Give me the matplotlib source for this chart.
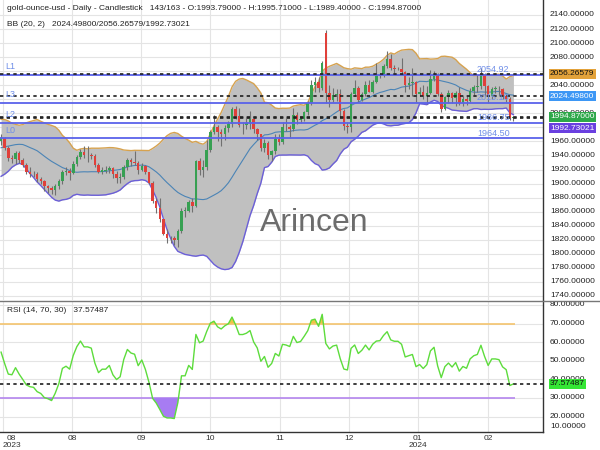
import numpy as np
import pandas as pd
import matplotlib
matplotlib.use("Agg")
import matplotlib.pyplot as plt

plt.rcParams['font.family'] = ['Liberation Sans', 'DejaVu Sans']

# ---------------- data ----------------
# closes before the visible window (warm-up for BB / RSI), Jun 1 - Jul 28 2023
prior_closes = [1978, 1948, 1962, 1963, 1940, 1965, 1961, 1957, 1944, 1943,
                1958, 1957, 1951, 1936, 1932, 1913, 1921, 1923, 1914, 1907,
                1908, 1919, 1921, 1925, 1915, 1911, 1925, 1925, 1932, 1957,
                1961, 1955, 1955, 1979, 1976, 1969, 1962, 1955, 1965, 1972,
                1956, 1960]

# visible bars: Jul 31 2023 - Feb 14 2024 (143 bars)
opens = [1960, 1965, 1951, 1936, 1935, 1943, 1934, 1926, 1917, 1914,
         1913, 1906, 1903, 1896, 1894, 1891, 1896, 1903, 1916, 1918,
         1915, 1928, 1938, 1945, 1940, 1940, 1939, 1926, 1916, 1918,
         1919, 1922, 1913, 1908, 1910, 1924, 1934, 1931, 1930, 1920,
         1925, 1916, 1901, 1875, 1865, 1849, 1828, 1822, 1822, 1820,
         1833, 1861, 1861, 1874, 1868, 1932, 1919, 1923, 1948, 1974,
         1981, 1973, 1970, 1979, 1985, 2006, 1996, 1983, 1983, 1986,
         1992, 1978, 1970, 1950, 1958, 1940, 1946, 1963, 1959, 1981,
         1980, 1978, 1998, 1990, 1992, 2002, 2014, 2041, 2044, 2036,
         2115, 2029, 2019, 2026, 2028, 2004, 1982, 1980, 2027, 2036,
         2019, 2027, 2040, 2031, 2045, 2053, 2054, 2067, 2077, 2065,
         2063, 2063, 2059, 2041, 2043, 2045, 2027, 2030, 2024, 2029,
         2049, 2055, 2028, 2006, 2023, 2029, 2022, 2029, 2014, 2021,
         2018, 2032, 2037, 2039, 2054, 2039, 2025, 2035, 2035, 2034,
         2024, 2020, 1993.79]

highs = [1970, 1966, 1953, 1940, 1946, 1946, 1937, 1930, 1923, 1918,
         1916, 1910, 1905, 1898, 1897, 1900, 1906, 1920, 1923, 1922,
         1932, 1940, 1949, 1953, 1953, 1943, 1942, 1929, 1923, 1925,
         1925, 1924, 1918, 1915, 1927, 1937, 1937, 1947, 1932, 1930,
         1927, 1917, 1903, 1880, 1880, 1850, 1835, 1825, 1825, 1836,
         1865, 1866, 1876, 1880, 1933, 1936, 1933, 1962, 1976, 1997,
         1983, 1977, 1983, 1989, 2009, 2010, 2008, 1988, 1993, 2004,
         1994, 1979, 1971, 1964, 1960, 1948, 1970, 1971, 1988, 1994,
         1983, 2007, 2002, 1996, 2004, 2018, 2048, 2052, 2052, 2075,
         2118, 2040, 2036, 2035, 2034, 2006, 1988, 2030, 2047, 2039,
         2031, 2046, 2047, 2047, 2071, 2058, 2070, 2088, 2084, 2069,
         2066, 2079, 2060, 2051, 2064, 2046, 2037, 2040, 2039, 2062,
         2060, 2057, 2031, 2025, 2033, 2030, 2032, 2037, 2024, 2025,
         2036, 2040, 2055, 2065, 2057, 2040, 2038, 2039, 2039, 2036,
         2027, 2023, 1995.71]

lows = [1955, 1948, 1932, 1930, 1928, 1930, 1923, 1914, 1910, 1910,
        1902, 1899, 1890, 1886, 1885, 1884, 1893, 1900, 1912, 1905,
        1913, 1925, 1935, 1937, 1931, 1935, 1923, 1915, 1914, 1915,
        1915, 1908, 1901, 1901, 1907, 1920, 1925, 1927, 1914, 1918,
        1913, 1899, 1873, 1858, 1846, 1827, 1815, 1816, 1813, 1810,
        1830, 1853, 1859, 1860, 1867, 1912, 1909, 1920, 1945, 1970,
        1961, 1953, 1962, 1973, 1981, 1992, 1980, 1970, 1977, 1978,
        1972, 1962, 1947, 1945, 1935, 1932, 1942, 1955, 1956, 1975,
        1965, 1975, 1985, 1986, 1989, 1998, 2012, 2031, 2031, 2033,
        2015, 2009, 2016, 2018, 1995, 1976, 1972, 1973, 2024, 2016,
        2017, 2025, 2030, 2029, 2043, 2050, 2051, 2064, 2062, 2058,
        2061, 2055, 2031, 2035, 2024, 2016, 2025, 2021, 2013, 2027,
        2046, 2024, 2002, 2005, 2015, 2015, 2011, 2012, 2010, 2012,
        2016, 2026, 2030, 2034, 2024, 2015, 2021, 2029, 2025, 2021,
        2016, 1990, 1989.40]

closes = [1965, 1951, 1936, 1935, 1943, 1934, 1926, 1917, 1914, 1913,
          1906, 1903, 1896, 1894, 1891, 1896, 1903, 1916, 1918, 1915,
          1928, 1938, 1945, 1940, 1940, 1939, 1926, 1916, 1919, 1919,
          1922, 1913, 1908, 1910, 1924, 1934, 1931, 1930, 1920, 1925,
          1916, 1901, 1875, 1865, 1849, 1828, 1822, 1822, 1820, 1833,
          1861, 1861, 1874, 1868, 1932, 1919, 1923, 1948, 1974, 1981,
          1973, 1970, 1979, 1985, 2006, 1996, 1983, 1983, 1986, 1992,
          1978, 1970, 1950, 1958, 1940, 1946, 1963, 1959, 1981, 1980,
          1978, 1998, 1990, 1992, 2002, 2014, 2041, 2044, 2036, 2072,
          2029, 2019, 2026, 2028, 2004, 1982, 1980, 2027, 2036, 2019,
          2027, 2040, 2031, 2045, 2053, 2054, 2067, 2077, 2065, 2063,
          2063, 2059, 2041, 2043, 2045, 2027, 2030, 2024, 2029, 2049,
          2055, 2028, 2006, 2023, 2029, 2022, 2029, 2014, 2021, 2018,
          2032, 2037, 2039, 2054, 2039, 2025, 2035, 2035, 2034, 2024,
          2020, 1993, 1994.87]

month_ticks = [0.45, 19.66, 38.78, 57.9, 77.3, 96.4, 115.5, 134.96]
month_labels = ['08\n2023', '08', '09', '10', '11', '12', '01\n2024', '02']

level_values = [2054.92, 2015.10, 1986.75, 1964.50]
level_names = ['L1', 'L3', 'L2', 'L0']

price_ticks = list(range(1740, 2141, 20))
rsi_ticks = [20, 30, 40, 50, 60, 70, 80]

bb_last = [2024.49800, 2056.26579, 1992.73021]   # mid / upper / lower
rsi_last = 37.57487
last_ohlc = [1993.79, 1995.71, 1989.40, 1994.87]

header = ("gold-ounce-usd - Daily - Candlestick   143/163 - O:1993.79000 - "
          "H:1995.71000 - L:1989.40000 - C:1994.87000")

# ---------------- indicators ----------------
n = len(closes)
allc = pd.Series(prior_closes + closes, dtype=float)
bb_mid = allc.rolling(20).mean().to_numpy()[-n:]
bb_sd = allc.rolling(20).std(ddof=0).to_numpy()[-n:]
bb_up = bb_mid + 2 * bb_sd
bb_lo = bb_mid - 2 * bb_sd

# Wilder RSI(14), seeded with the simple average of the first 14 changes
arr = allc.to_numpy()
chg = np.diff(arr)
gains = np.clip(chg, 0, None)
losses = np.clip(-chg, 0, None)
rsi_all = np.full(len(arr), np.nan)
ag = gains[:14].mean()
al = losses[:14].mean()
rsi_all[14] = 100 - 100 / (1 + ag / al)
for k in range(14, len(chg)):
    ag = (ag * 13 + gains[k]) / 14
    al = (al * 13 + losses[k]) / 14
    rsi_all[k + 1] = 100 - 100 / (1 + ag / al)
rsi = rsi_all[-n:]

# ---------------- figure ----------------
W, H = 600, 450
fig = plt.figure(figsize=(6, 4.5), dpi=100)
fig.patch.set_facecolor('white')


def fy(y):
    return 1 - y / H


ax = fig.add_axes([0, fy(300), 543 / W, 300 / H])
ax2 = fig.add_axes([0, fy(432), 543 / W, (432 - 301) / H])

XL = (-0.3, 150.2)
for a in (ax, ax2):
    a.set_xlim(*XL)
    a.set_facecolor('white')
    a.set_xticks(month_ticks)
    a.grid(True, color='#e4e4e4', lw=0.8)
    a.set_axisbelow(True)
    a.tick_params(which='both', length=0, labelleft=False, labelbottom=False,
                  labelright=False)
    for s in ('left', 'top'):
        a.spines[s].set_visible(False)
    a.spines['right'].set_color('#333333')
    a.spines['right'].set_linewidth(1.0)

ax.spines['bottom'].set_visible(False)
ax2.spines['bottom'].set_color('#333333')
ax2.spines['bottom'].set_linewidth(1.0)

ax.set_ylim(1734.3, 2161.3)
ax.set_yticks(price_ticks)
ax2.set_ylim(11.7, 82.15)
ax2.set_yticks(rsi_ticks)

x = np.arange(n)
o = np.array(opens, float)
h = np.array(highs, float)
lo = np.array(lows, float)
c = np.array(closes, float)

# Bollinger bands
ax.fill_between(x, bb_lo, bb_up, color='#c0c0c0', lw=0, zorder=1.5)
ax.plot(x, bb_up, color='#d6a24f', lw=1.0, zorder=2)
ax.plot(x, bb_lo, color='#6b5fd8', lw=1.0, zorder=2)
ax.plot(x, bb_mid, color='#4b84b6', lw=0.8, zorder=2)

# candles
up = c >= o
cols = np.where(up, '#37a052', '#e0403a')
ax.vlines(x, lo, h, colors='#707070', lw=0.8, zorder=3)
ax.bar(x, np.maximum(np.abs(c - o), 0.7), bottom=np.minimum(o, c), width=0.7,
       color=cols, lw=0, zorder=4)

# level lines
lvl_col = '#5a62ea'
lab_col = '#6f8ee8'
for v, nm in zip(level_values, level_names):
    ax.axhline(v, color=lvl_col, lw=1.3, zorder=5)
    ax.annotate(nm, xy=(0, v), xycoords=('axes fraction', 'data'),
                xytext=(5, 8), textcoords='offset pixels', ha='left',
                va='center', fontsize=6.5, color=lab_col, zorder=7)
    ax.annotate(f'{v:.2f}', xy=(136.4, v), xycoords='data',
                xytext=(0, 5), textcoords='offset pixels', ha='center',
                va='center', fontsize=6.5, color=lab_col, zorder=7)

# dotted current-value lines
for v in [bb_last[1], bb_last[0], last_ohlc[3], bb_last[2]]:
    ax.axhline(v, color='#1e1e1e', lw=1.2, ls=(0, (2, 2)), zorder=6)

# watermark
fig.text(314 / W, fy(223), 'Arincen', fontsize=23, color='#6c6c6c',
         ha='center', va='center')

# right price labels (2060/2020/1980 sit completely under the value boxes)
hidden = {2060, 2020, 1980}
for p in price_ticks:
    if p in hidden:
        continue
    ax.annotate(f'{p:.5f}', xy=(1, p), xycoords=('axes fraction', 'data'),
                xytext=(7, 0), textcoords='offset pixels', ha='left',
                va='center', fontsize=6, color='#222222',
                annotation_clip=False, zorder=8)

# value boxes
boxes = [(bb_last[1], 0, '#e3a23a', '#111111'),
         (bb_last[0], 0, '#3d97f5', 'white'),
         (last_ohlc[3], 0, '#2ea84a', 'white'),
         (bb_last[2], -10, '#6a40e0', 'white')]
for v, dy, fc, tc in boxes:
    ax.annotate(f'{v:.5f}', xy=(1, v), xycoords=('axes fraction', 'data'),
                xytext=(7, dy), textcoords='offset pixels', ha='left',
                va='center', fontsize=6, color=tc, annotation_clip=False,
                bbox=dict(boxstyle='square,pad=0.18', fc=fc, ec='none'),
                zorder=9)

# RSI panel
ax2.plot(x, rsi, color='#5ddc3c', lw=1.0, zorder=4)
ax2.hlines([70], XL[0], n - 0.5, color='#f4c46e', lw=1.2, zorder=3)
ax2.hlines([30], XL[0], n - 0.5, color='#b486ee', lw=1.2, zorder=3)
ax2.fill_between(x, rsi, 70, where=rsi > 70, interpolate=True,
                 color='#efc445', lw=0, zorder=3.5)
ax2.fill_between(x, rsi, 30, where=rsi < 30, interpolate=True,
                 color='#a77cf2', lw=0, zorder=3.5)
ax2.axhline(rsi_last, color='#1e1e1e', lw=1.2, ls=(0, (2, 2)), zorder=5)

for p in rsi_ticks:
    ax2.annotate(f'{p:.5f}', xy=(1, p), xycoords=('axes fraction', 'data'),
                 xytext=(7, 0), textcoords='offset pixels', ha='left',
                 va='center', fontsize=6, color='#222222',
                 annotation_clip=False, zorder=8)
fig.text(550 / W, fy(427), f'{10:.5f}', fontsize=6, color='#222222',
         ha='left', va='center')
ax2.annotate(f'{rsi_last:.5f}', xy=(1, rsi_last),
             xycoords=('axes fraction', 'data'), xytext=(7, 0),
             textcoords='offset pixels', ha='left', va='center', fontsize=6,
             color='#111111', annotation_clip=False,
             bbox=dict(boxstyle='square,pad=0.18', fc='#35e635', ec='none'),
             zorder=9)

# x labels
for i, (t, lab) in enumerate(zip(month_ticks, month_labels)):
    tx = 2.9 if i == 0 else t
    ax2.annotate(lab, xy=(tx, 0), xycoords=('data', 'axes fraction'),
                 xytext=(0, -3), textcoords='offset pixels', ha='center',
                 va='top', fontsize=6, color='#333333', linespacing=0.95,
                 annotation_clip=False)

# panel separator
fig.add_artist(plt.Line2D([0, 1], [fy(300.5), fy(300.5)], color='#777777',
                          lw=1.0, transform=fig.transFigure))

# header texts
fig.text(7 / W, fy(9), header, fontsize=6, color='#222222', ha='left',
         va='center')
fig.text(7 / W, fy(25), 'BB (20, 2)   ' + '/'.join(f'{v:.5f}' for v in bb_last),
         fontsize=6, color='#222222', ha='left', va='center')
fig.text(7 / W, fy(310), f'RSI (14, 70, 30)   {rsi_last:.5f}', fontsize=6,
         color='#222222', ha='left', va='center')

fig.savefig('out.png', dpi=100, facecolor='white')
